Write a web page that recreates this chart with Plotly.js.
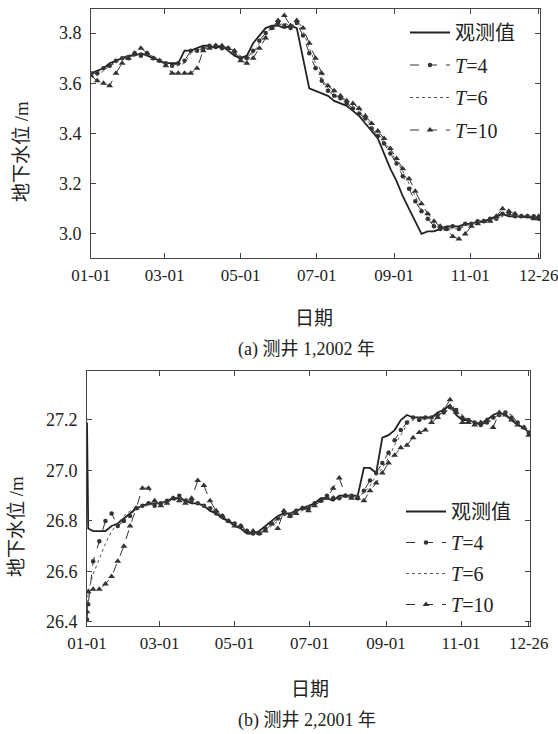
<!DOCTYPE html>
<html><head><meta charset="utf-8">
<script src="https://cdn.plot.ly/plotly-3.0.1.min.js"></script>
<style>html,body{margin:0;padding:0;background:#fff}#c{width:558px;height:734px}</style>
</head><body><div id="c"></div><script>
const seriesNames = ['观测值', '<i>T</i>=4', '<i>T</i>=6', '<i>T</i>=10'];
const tickDays = [0, 59, 120, 181, 243, 304, 359];
const tickLabels = ['01-01', '03-01', '05-01', '07-01', '09-01', '11-01', '12-26'];

// Well 1, 2002 (day of year)
const daysA = [0,5,10,15,20,25,30,35,40,45,50,55,60,65,70,75,80,85,90,95,100,105,110,115,120,125,130,135,140,145,150,155,160,165,170,175,180,185,190,195,200,205,210,215,220,225,230,235,240,245,250,255,260,265,270,275,280,285,290,295,300,305,310,315,320,325,330,335,340,345,350,355,359];
const obsA = [3.64,3.65,3.66,3.68,3.69,3.70,3.71,3.71,3.72,3.71,3.70,3.69,
  3.68,3.68,3.68,3.73,3.73,3.74,3.75,3.75,3.74,3.75,3.73,3.71,
  3.70,3.71,3.76,3.79,3.82,3.83,3.83,3.82,3.83,3.82,3.70,3.58,
  3.57,3.56,3.55,3.53,3.52,3.51,3.49,3.47,3.44,3.41,3.38,3.32,
  3.26,3.21,3.15,3.10,3.05,3.00,3.01,3.01,3.02,3.03,3.03,3.03,
  3.04,3.04,3.05,3.05,3.06,3.07,3.08,3.07,3.07,3.07,3.07,3.06,
  3.06];
const t4A = [3.64,3.64,3.66,3.67,3.69,3.70,3.70,3.72,3.71,3.72,3.70,3.69,
  3.68,3.67,3.68,3.69,3.73,3.73,3.74,3.75,3.75,3.74,3.74,3.72,
  3.70,3.70,3.73,3.77,3.80,3.82,3.84,3.83,3.82,3.84,3.79,3.72,
  3.66,3.61,3.57,3.55,3.54,3.52,3.50,3.48,3.46,3.42,3.39,3.36,
  3.32,3.28,3.23,3.18,3.13,3.09,3.06,3.03,3.02,3.02,3.03,3.02,
  3.04,3.04,3.05,3.05,3.06,3.06,3.08,3.08,3.07,3.07,3.07,3.07,
  3.06];
const t6A = [3.64,3.63,3.65,3.67,3.68,3.70,3.71,3.71,3.72,3.71,3.71,3.69,
  3.68,3.67,3.67,3.68,3.72,3.73,3.74,3.74,3.75,3.75,3.73,3.72,
  3.71,3.69,3.72,3.76,3.79,3.82,3.83,3.84,3.83,3.84,3.81,3.74,
  3.68,3.62,3.58,3.56,3.54,3.53,3.51,3.49,3.46,3.43,3.40,3.37,
  3.33,3.29,3.25,3.20,3.15,3.10,3.07,3.04,3.03,3.02,3.02,3.02,
  3.03,3.04,3.05,3.05,3.05,3.06,3.07,3.08,3.07,3.07,3.06,3.07,
  3.06];
const t10A = [3.63,3.61,3.60,3.59,3.64,3.68,3.70,3.72,3.74,3.72,3.70,3.69,
  3.67,3.64,3.64,3.64,3.64,3.66,3.73,3.74,3.75,3.75,3.74,3.73,
  3.69,3.68,3.70,3.74,3.78,3.82,3.85,3.87,3.83,3.85,3.82,3.76,
  3.70,3.64,3.59,3.57,3.55,3.53,3.52,3.50,3.47,3.44,3.41,3.38,
  3.34,3.30,3.26,3.22,3.17,3.12,3.08,3.05,3.03,3.02,2.99,2.98,
  3.00,3.03,3.04,3.05,3.05,3.07,3.10,3.09,3.08,3.07,3.07,3.06,
  3.07];

// Well 2, 2001 (day of year)
const daysB = [0,1,5,10,15,20,25,30,35,40,45,50,55,60,65,70,75,80,85,90,95,100,105,110,115,120,125,130,135,140,145,150,155,160,165,170,175,180,185,190,195,200,205,210,215,220,225,230,235,240,245,250,255,260,265,270,275,280,285,290,295,300,305,310,315,320,325,330,335,340,345,350,355,359];
const obsB = [27.19,26.77,
  26.76,26.76,26.76,26.78,26.79,26.81,26.83,26.85,26.86,26.87,26.87,26.87,
  26.88,26.89,26.89,26.88,26.87,26.87,26.86,26.84,26.83,26.81,26.80,26.78,
  26.77,26.75,26.75,26.76,26.78,26.80,26.82,26.83,26.83,26.84,26.85,26.86,
  26.87,26.89,26.89,26.88,26.90,26.90,26.90,26.90,27.01,27.01,26.99,27.13,
  27.14,27.16,27.20,27.22,27.21,27.21,27.21,27.21,27.23,27.24,27.26,27.22,
  27.20,27.20,27.19,27.18,27.20,27.22,27.23,27.22,27.20,27.18,27.17,
  27.15];
const t4B = [26.41,26.47,
  26.64,26.72,26.80,26.83,26.78,26.80,26.82,26.85,26.86,26.87,26.86,26.87,
  26.88,26.89,26.90,26.88,26.88,26.87,26.86,26.85,26.83,26.82,26.80,26.79,
  26.78,26.76,26.75,26.75,26.77,26.79,26.81,26.83,26.82,26.84,26.85,26.85,
  26.87,26.88,26.90,26.89,26.89,26.90,26.90,26.89,26.92,26.96,26.99,27.03,
  27.07,27.12,27.16,27.19,27.21,27.20,27.21,27.21,27.22,27.23,27.25,27.24,
  27.21,27.20,27.19,27.18,27.19,27.21,27.22,27.23,27.21,27.19,27.17,
  27.15];
const t6B = [26.45,26.52,
  26.59,26.65,26.71,26.76,26.79,26.82,26.84,26.85,26.86,26.86,26.87,26.87,
  26.88,26.88,26.89,26.89,26.88,26.87,26.86,26.85,26.84,26.82,26.80,26.79,
  26.77,26.76,26.75,26.75,26.76,26.78,26.80,26.82,26.83,26.84,26.84,26.86,
  26.86,26.88,26.89,26.90,26.89,26.90,26.90,26.90,26.91,26.94,26.98,27.01,
  27.05,27.10,27.14,27.18,27.20,27.21,27.20,27.21,27.22,27.23,27.24,27.24,
  27.22,27.20,27.19,27.19,27.19,27.20,27.22,27.23,27.22,27.19,27.17,
  27.15];
const t10B = [26.44,26.52,
  26.53,26.53,26.55,26.58,26.64,26.70,26.78,26.85,26.93,26.93,26.88,26.86,
  26.87,26.89,26.88,26.87,26.89,26.96,26.94,26.88,26.84,26.82,26.80,26.78,
  26.78,26.76,26.76,26.75,26.76,26.79,26.77,26.84,26.82,26.83,26.85,26.84,
  26.86,26.88,26.89,26.93,26.97,26.90,26.89,26.89,26.88,26.92,26.95,26.99,
  27.03,27.06,27.09,27.10,27.13,27.15,27.16,27.19,27.21,27.24,27.28,27.23,
  27.19,27.19,27.18,27.19,27.20,27.17,27.23,27.22,27.20,27.18,27.17,
  27.14];

const SERIF = 'Liberation Serif, Times New Roman, Noto Sans CJK SC, serif';
const INK = '#222';
const styles = [
  {mode: 'lines', line: {color: INK, width: 1.8, dash: 'solid'}},
  {mode: 'lines+markers', line: {color: '#333', width: 1, dash: 'dash'}, marker: {symbol: 'circle', size: 4.5, color: '#333'}},
  {mode: 'lines', line: {color: '#555', width: 1, dash: 'dot'}},
  {mode: 'lines+markers', line: {color: '#333', width: 1, dash: 'dash'}, marker: {symbol: 'triangle-up', size: 6, color: '#333'}}
];

function makeTraces(days, sets, xa, ya, leg) {
  return sets.map((vals, i) => Object.assign({
    type: 'scatter', x: days, y: vals, name: seriesNames[i],
    xaxis: xa, yaxis: ya, legend: leg, legendgroup: leg + i
  }, JSON.parse(JSON.stringify(styles[i]))));
}

const data = [].concat(
  makeTraces(daysA, [obsA, t4A, t6A, t10A], 'x', 'y', 'legend'),
  makeTraces(daysB, [obsB, t4B, t6B, t10B], 'x2', 'y2', 'legend2')
);

const W = 558, H = 734;
const axCommon = {
  showline: true, mirror: 'ticks', linecolor: '#444', linewidth: 1,
  ticks: 'inside', ticklen: 5, tickcolor: '#444', showgrid: false, zeroline: false,
  tickfont: {family: SERIF, size: 18, color: INK}
};
const xax = (dom) => Object.assign({}, axCommon, {
  domain: dom, range: [0, 360], tickmode: 'array', tickvals: tickDays, ticktext: tickLabels,
  ticklabelstandoff: 2, ticklabeloverflow: 'allow',
  tickfont: {family: SERIF, size: 17, color: INK}
});
const yax = (dom, rng, anchor) => Object.assign({}, axCommon, {
  domain: dom, range: rng, dtick: 0.2, tick0: 0, tickformat: '.1f', anchor: anchor,
  ticklabelstandoff: 5
});

function ann(text, px, py, size, angle) {
  return {text: text, x: px / W, y: 1 - py / H, xref: 'paper', yref: 'paper',
    showarrow: false, xanchor: 'center', yanchor: 'middle', textangle: angle || 0,
    font: {family: SERIF, size: size, color: INK}};
}

const legStyle = (x, y, gap) => ({
  x: x, y: y, xanchor: 'left', yanchor: 'top', bgcolor: 'rgba(0,0,0,0)',
  font: {family: SERIF, size: 20, color: INK}, itemwidth: 40, tracegroupgap: gap
});

const layout = {
  width: W, height: H, margin: {l: 0, r: 0, t: 0, b: 0},
  paper_bgcolor: '#fff', plot_bgcolor: '#fff', showlegend: true,
  xaxis: Object.assign(xax([91 / W, 540 / W]), {anchor: 'y'}),
  yaxis: yax([1 - 258 / H, 1 - 9 / H], [2.904, 3.896], 'x'),
  xaxis2: Object.assign(xax([87 / W, 530 / W]), {anchor: 'y2'}),
  yaxis2: yax([1 - 626 / H, 1 - 371 / H], [26.384, 27.394], 'x2'),
  legend: legStyle(405 / W, 1 - 13 / H, 3.5),
  legend2: legStyle(401 / W, 1 - 492 / H, 2),
  annotations: [
    ann('地下水位 /m', 22, 152, 19, -90),
    ann('日期', 314, 318, 19),
    ann('(a) 测井 1,2002 年', 306, 349, 18),
    ann('地下水位 /m', 16, 527, 19, -90),
    ann('日期', 310, 689, 19),
    ann('(b) 测井 2,2001 年', 307, 720, 18)
  ]
};

Plotly.newPlot('c', data, layout, {displayModeBar: false, staticPlot: true});
</script></body></html>
